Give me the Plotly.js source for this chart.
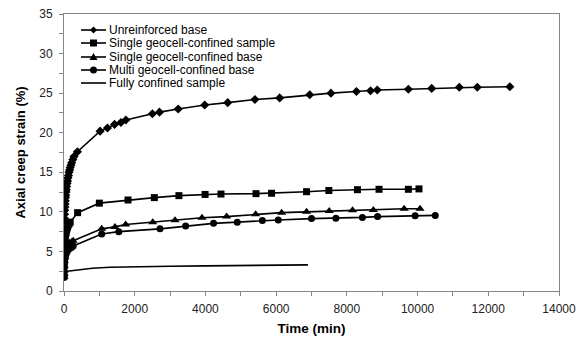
<!DOCTYPE html>
<html>
<head>
<meta charset="utf-8">
<script src="https://cdn.plot.ly/plotly-3.0.1.min.js"></script>
<style>html,body{margin:0;padding:0;background:#fff}#chart{width:576px;height:342px}</style>
</head>
<body>
<div id="chart"></div>
<script>
// ---- data ----
const seriesNames = ["Unreinforced base", "Single geocell-confined sample", "Single geocell-confined base", "Multi geocell-confined base", "Fully confined sample"];

const unrT = [0,1,2,4,6,9,12,16,20,25,30,36,42,49,57,66,76,87,99,112,126,141,158,176,196,218,250,283,380,1020,1230,1430,1610,1750,2500,2700,3230,3980,4630,5400,6100,6950,7550,8270,8670,8860,9740,10400,11180,11690,12610];
const unrY = [2.0,4.0,5.8,7.2,8.0,8.7,9.2,9.7,10.2,10.6,11.0,11.4,11.8,12.1,12.5,12.8,13.2,13.6,13.9,14.3,14.6,15.0,15.3,15.6,15.9,16.2,16.6,17.0,17.6,20.2,20.6,21.05,21.3,21.6,22.4,22.6,23.0,23.5,23.8,24.2,24.4,24.8,25.0,25.2,25.3,25.4,25.5,25.6,25.75,25.75,25.8];

const sqT = [0,2,5,10,16,24,34,46,60,76,95,118,145,175,385,1000,1810,2555,3250,3990,4440,5430,5870,6860,7490,8300,8910,9740,10040];
const sqY = [1.9,3.2,4.3,5.2,5.8,6.3,6.7,7.1,7.4,7.7,8.0,8.3,8.5,8.7,9.9,11.1,11.5,11.8,12.05,12.2,12.25,12.3,12.35,12.55,12.7,12.8,12.85,12.85,12.9];

const triT = [0,2,5,10,18,28,40,55,75,100,130,165,210,260,1066,1442,1743,2510,3140,3903,4600,5420,6155,6860,7500,8160,8750,9620,10070];
const triY = [1.8,2.6,3.2,3.8,4.3,4.7,5.0,5.3,5.6,5.8,6.0,6.1,6.2,6.35,7.85,8.1,8.4,8.7,8.95,9.25,9.4,9.7,9.9,10.0,10.1,10.2,10.25,10.4,10.4];

const cirT = [0,2,5,10,18,28,40,55,75,100,130,165,210,260,1066,1550,2715,3440,4230,4900,5610,6060,7000,7690,8440,8870,9930,10500];
const cirY = [1.7,2.4,2.9,3.4,3.8,4.1,4.4,4.7,4.9,5.1,5.3,5.4,5.5,5.7,7.2,7.5,7.85,8.2,8.55,8.7,8.9,8.97,9.15,9.2,9.3,9.4,9.5,9.55];

const fcT = [0,30,100,250,500,800,1300,2000,3000,4000,5000,6000,6900];
const fcY = [2.3,2.4,2.5,2.6,2.75,2.88,3.0,3.07,3.12,3.17,3.22,3.26,3.3];

const xTickVals = [0,2000,4000,6000,8000,10000,12000,14000];
const yTickVals = [0,5,10,15,20,25,30,35];

// ---- drawing ----
const FONT = "Liberation Sans, Arial, sans-serif";
const line = {color:"#000", width:1.6};
const traces = [
  {x:unrT, y:unrY, name:seriesNames[0], mode:"lines+markers", line:line, marker:{symbol:"diamond", size:7, color:"#000"}},
  {x:sqT, y:sqY, name:seriesNames[1], mode:"lines+markers", line:line, marker:{symbol:"square", size:7, color:"#000"}},
  {x:triT, y:triY, name:seriesNames[2], mode:"lines+markers", line:line, marker:{symbol:"triangle-up", size:8, color:"#000"}},
  {x:cirT, y:cirY, name:seriesNames[3], mode:"lines+markers", line:line, marker:{symbol:"circle", size:7, color:"#000"}},
  {x:fcT, y:fcY, name:seriesNames[4], mode:"lines", line:line}
];

// custom legend (compact, like the reference)
const L = 64, T = 14, W = 495, H = 277;
const px2x = p => (p - L) / W;
const py2y = p => (T + H - p) / H;
const rows = [30, 43, 57, 70, 83];
const shapes = [], annotations = [];
const syms = ["diamond","square","triangle","circle",null];
rows.forEach((py, i) => {
  shapes.push({type:"line", xref:"paper", yref:"paper", x0:px2x(81), x1:px2x(106), y0:py2y(py), y1:py2y(py), line:{color:"#000", width:1.6}});
  const s = syms[i];
  const base = {xref:"paper", yref:"paper", xsizemode:"pixel", ysizemode:"pixel", xanchor:px2x(93.5), yanchor:py2y(py), fillcolor:"#000", line:{color:"#000", width:0}};
  if (s === "diamond") shapes.push(Object.assign({type:"path", path:"M0,3.5 L3.5,0 L0,-3.5 L-3.5,0 Z"}, base));
  if (s === "square") shapes.push(Object.assign({type:"path", path:"M-3.5,-3.5 L3.5,-3.5 L3.5,3.5 L-3.5,3.5 Z"}, base));
  if (s === "triangle") shapes.push(Object.assign({type:"path", path:"M-4,-3 L4,-3 L0,4 Z"}, base));
  if (s === "circle") shapes.push(Object.assign({type:"circle", x0:-3.5, x1:3.5, y0:-3.5, y1:3.5}, base));
  annotations.push({xref:"paper", yref:"paper", x:px2x(107), y:py2y(py), xanchor:"left", yanchor:"middle", showarrow:false, text:seriesNames[i], font:{family:FONT, size:12, color:"#000"}});
});

const layout = {
  width:576, height:342,
  margin:{l:L, r:576-L-W, t:T, b:342-T-H},
  paper_bgcolor:"#fff", plot_bgcolor:"#fff",
  showlegend:false,
  font:{family:FONT, size:12, color:"#222"},
  xaxis:{
    range:[0,14000], tickvals:xTickVals, ticktext:xTickVals.map(String),
    showgrid:false, zeroline:false, showline:true, linecolor:"#868686", linewidth:1, mirror:true,
    ticks:"outside", ticklen:4, tickcolor:"#868686", ticklabelstandoff:3, ticklabeloverflow:"allow",
    minor:{dtick:1000, ticks:"outside", ticklen:4, tickcolor:"#868686"},
    tickfont:{family:FONT, size:12, color:"#222"},
    title:{text:"<b>Time (min)</b>", font:{family:FONT, size:13.5, color:"#000"}, standoff:8}
  },
  yaxis:{
    range:[0,35], tickvals:yTickVals, ticktext:yTickVals.map(String),
    showgrid:false, zeroline:false, showline:true, linecolor:"#868686", linewidth:1, mirror:true,
    ticks:"outside", ticklen:4, tickcolor:"#868686", ticklabelstandoff:4, ticklabeloverflow:"allow",
    minor:{dtick:2.5, ticks:"outside", ticklen:4, tickcolor:"#868686"},
    tickfont:{family:FONT, size:12, color:"#222"},
    title:{text:"<b>Axial creep strain (%)</b>", font:{family:FONT, size:13, color:"#000"}, standoff:10}
  },
  shapes:shapes, annotations:annotations
};

Plotly.newPlot("chart", traces, layout, {displayModeBar:false, staticPlot:true});
</script>
</body>
</html>
